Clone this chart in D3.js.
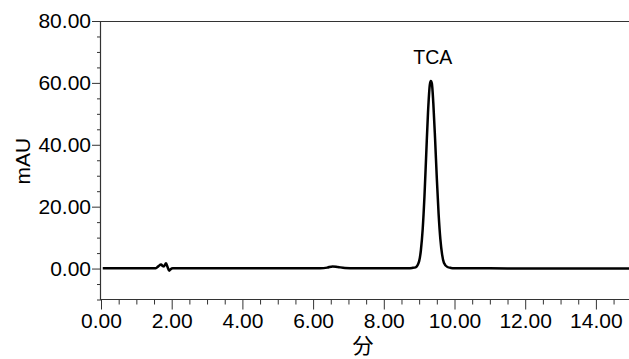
<!DOCTYPE html>
<html>
<head>
<meta charset="utf-8">
<script src="https://cdn.jsdelivr.net/npm/d3@7"></script>
<style>
  body { margin: 0; background: #fff; }
  svg { display: block; }
  .tick text { font-family: "Liberation Sans", Arial, sans-serif; }
</style>
</head>
<body>
<div id="chart"></div>
<script>
//chromatogram trace (minutes, mAU)
const times = [0.05, 1.00, 1.55, 1.62, 1.70, 1.75, 1.78, 1.84, 1.88, 1.93, 1.97, 2.03, 2.50, 3.00, 4.00, 5.00,
  6.20, 6.40, 6.55, 6.70, 6.90, 7.20, 8.00, 8.70, 8.80, 8.90, 9.00, 9.05, 9.10, 9.15, 9.20, 9.25, 9.30, 9.33,
  9.36, 9.40, 9.45, 9.50, 9.55, 9.60, 9.65, 9.70, 9.80, 9.90, 10.00, 11.00, 12.00, 13.00, 14.00, 15.00]
const mAU = [0.1, 0.1, 0.1, 0.7, 1.3, 0.8, 0.7, 1.7, 0.6, -0.7, -0.2, 0.1, 0.1, 0.1, 0.1, 0.1,
  0.1, 0.3, 0.7, 0.5, 0.2, 0.1, 0.1, 0.1, 0.2, 0.4, 2.4, 6.0, 12.7, 23.3, 36.9, 50.3, 59.2, 60.6,
  59.8, 53.6, 42.1, 29.1, 17.7, 9.5, 4.5, 1.9, 0.5, 0.2, 0.1, 0.1, 0.0, 0.0, 0.0, 0.0]

//peak annotation
const peakNames = ['TCA']
const peakTimes = [9.33]
const peakHeights = [60.6]

//axis ticks
const xMajor = [0, 2, 4, 6, 8, 10, 12, 14]
const xMinor = d3.range(0, 15.01, 0.5).filter(d => d % 2 != 0)
const yMajor = [0, 20, 40, 60, 80]
const yMinor = [-10, -5, 5, 10, 15, 25, 30, 35, 45, 50, 55, 65, 70, 75]

const W = 629, H = 359
const margin = {top: 21, left: 101, bottom: 59.5}

const svg = d3.select("#chart")
  .append("svg")
    .attr("width", W)
    .attr("height", H)

const x = d3.scaleLinear()
  .domain([0, 15])
  .range([margin.left, margin.left + 15 * 35.35])

const y = d3.scaleLinear()
  .domain([-10, 80])
  .range([H - margin.bottom, margin.top])

const axisColor = "#333"
const font = '"Liberation Sans", Arial, sans-serif'

//minor ticks first, then labelled major ticks
svg.append("g")
  .attr("transform", `translate(0, ${y(-10)})`)
  .call(d3.axisBottom(x).tickValues(xMinor).tickSize(5).tickFormat(""))
  .call(g => g.select(".domain").remove())
  .call(g => g.selectAll("line").attr("stroke", axisColor))

svg.append("g")
  .attr("transform", `translate(0, ${y(-10)})`)
  .call(d3.axisBottom(x).tickValues(xMajor).tickSize(10).tickPadding(4).tickFormat(d3.format(".2f")))
  .call(g => g.select(".domain").remove())
  .call(g => g.selectAll("line").attr("stroke", axisColor))
  .call(g => g.selectAll("text").attr("fill", "#000").style("font-size", "21px").style("font-family", font))

svg.append("g")
  .attr("transform", `translate(${x(0)}, 0)`)
  .call(d3.axisLeft(y).tickValues(yMinor).tickSize(4).tickFormat(""))
  .call(g => g.select(".domain").remove())
  .call(g => g.selectAll("line").attr("stroke", axisColor))

svg.append("g")
  .attr("transform", `translate(${x(0)}, 0)`)
  .call(d3.axisLeft(y).tickValues(yMajor).tickSize(9).tickPadding(1).tickFormat(d3.format(".2f")))
  .call(g => g.select(".domain").remove())
  .call(g => g.selectAll("line").attr("stroke", axisColor))
  .call(g => g.selectAll("text").attr("fill", "#000").style("font-size", "21px").style("font-family", font))

//frame lines: left, bottom, top
const x0 = Math.round(x(0)) - 0.5, yb = Math.round(y(-10)) - 0.5, yt = Math.round(y(80)) + 0.5
svg.append("path")
  .attr("d", `M${W + 2},${yt}H${x0}V${yb}H${W + 2}`)
  .attr("fill", "none")
  .attr("stroke", axisColor)
  .attr("stroke-width", 1.2)

//trace
const line = d3.line()
  .x((d, i) => x(times[i]))
  .y(d => y(d))
  .curve(d3.curveMonotoneX)

svg.append("path")
  .datum(mAU)
  .attr("d", line)
  .attr("fill", "none")
  .attr("stroke", "#000")
  .attr("stroke-width", 2.5)
  .attr("stroke-linejoin", "round")

//peak label
svg.selectAll(".peak")
  .data(peakNames)
  .join("text")
    .attr("class", "peak")
    .attr("x", (d, i) => x(peakTimes[i]) + 2)
    .attr("y", (d, i) => y(peakHeights[i]) - 17)
    .attr("text-anchor", "middle")
    .style("font-family", font)
    .style("font-size", "19.5px")
    .text(d => d)

//axis titles
svg.append("text")
  .attr("transform", `translate(30, ${(y(-10) + y(80)) / 2 + 1}) rotate(-90)`)
  .attr("text-anchor", "middle")
  .style("font-family", font)
  .style("font-size", "21px")
  .text("mAU")

svg.append("text")
  .attr("x", 363)
  .attr("y", 353)
  .attr("text-anchor", "middle")
  .style("font-family", '"Noto Sans CJK JP", sans-serif')
  .style("font-size", "21px")
  .text("分")
</script>
</body>
</html>
